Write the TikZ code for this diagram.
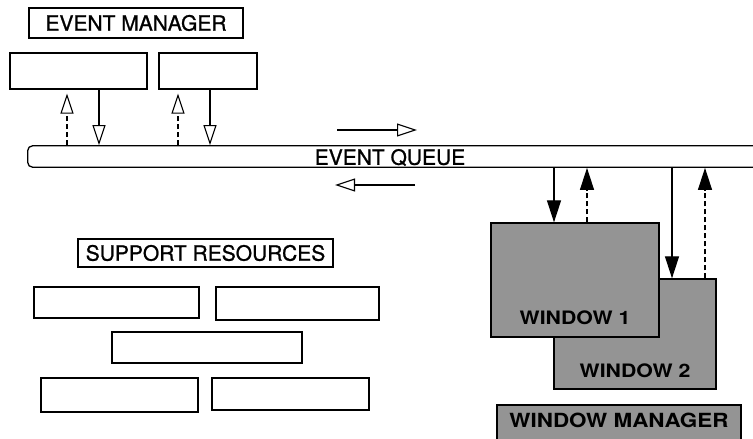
\documentclass[tikz,border=0pt]{standalone}
\usepackage{fontspec}
\setmainfont{TeX Gyre Heros}[FakeBold=1]
\newfontfamily\winfont[FakeStretch=1.15]{TeX Gyre Heros}
\usetikzlibrary{arrows.meta,positioning}

\begin{document}
\begin{tikzpicture}[
  x=1pt, y=-1pt,
  line width=1.1pt,
  box/.style={draw, line width=1.3pt, inner sep=0pt,
    font=\fontsize{21}{21}\selectfont},
  winbox/.style={draw, line width=1.3pt, fill=black!42},
  wintext/.style={inner sep=0pt, font=\winfont\bfseries\fontsize{18.5}{18.5}\selectfont},
  arr/.style={-{Triangle[length=22pt, width=14pt]}},
  oarr/.style={-{Triangle[open, length=20pt, width=13pt]}}
]
\clip (0,0) rectangle (753,439);

% event manager side
\node[box, minimum width=214pt, minimum height=30pt] (evman) at (136,23) {EVENT MANAGER};
\node[box, minimum width=137pt, minimum height=36pt] (evbox1) at (78.5,71) {};
\node[box, minimum width=98pt, minimum height=36pt] (evbox2) at (208,71) {};

% the queue
\node[box, rounded corners=5pt, minimum width=760pt, minimum height=21.5pt, anchor=west] (queue) at (27,156.5) {};
\node[inner sep=0pt, font=\fontsize{21}{21}\selectfont] (qname) at (390,157.5) {EVENT QUEUE};

% support resources
\node[box, minimum width=255pt, minimum height=28pt] (supres) at (205.5,253) {SUPPORT RESOURCES};
\node[box, minimum width=165pt, minimum height=31pt] (res1) at (116.5,302.5) {};
\node[box, minimum width=163pt, minimum height=33pt] (res2) at (297.5,303.5) {};
\node[box, minimum width=190pt, minimum height=31pt] (res3) at (207,347.5) {};
\node[box, minimum width=157pt, minimum height=34pt] (res4) at (119.5,395) {};
\node[box, minimum width=157pt, minimum height=32pt] (res5) at (290.5,394) {};

% windows
\node[winbox, minimum width=162pt, minimum height=110pt] (win2) at (635,334) {};
\node[wintext, above=11pt of win2.south] (win2name) {WINDOW 2};
\node[winbox, minimum width=168pt, minimum height=114pt] (win1) at (575,280) {};
\node[wintext, above=12pt of win1.south] (win1name) {WINDOW 1};
\node[winbox, minimum width=244pt, minimum height=45pt] (winman) at (619,427.5) {};
\node[wintext, font=\winfont\bfseries\fontsize{19.5}{19.5}\selectfont, below=8pt of winman.north] (winmanname) {WINDOW MANAGER};

% manager <-> queue
\coordinate (e1) at ([xshift=-11.5pt]evbox1.south);
\coordinate (e2) at ([xshift=20.5pt]evbox1.south);
\coordinate (e3) at ([xshift=-30pt]evbox2.south);
\coordinate (e4) at ([xshift=2pt]evbox2.south);
\draw[oarr, dash pattern=on 5pt off 3pt] (e1 |- queue.north) -- ([yshift=-4pt]e1);
\draw[oarr] (e2) -- (e2 |- queue.north);
\draw[oarr, dash pattern=on 5pt off 3pt] (e3 |- queue.north) -- ([yshift=-4pt]e3);
\draw[oarr] (e4) -- (e4 |- queue.north);

% queue in and out
\coordinate (inL) at (337,130);
\coordinate (inR) at (417,130);
\coordinate (outR) at (415,185);
\coordinate (outL) at (335,185);
\draw[oarr] (inL) -- (inR);
\draw[oarr] (outR) -- (outL);

% queue <-> windows
\coordinate (w1) at ([xshift=-21pt]win1.north);
\coordinate (w2) at ([xshift=12pt]win1.north);
\coordinate (w3) at ([xshift=37pt]win2.north);
\coordinate (w4) at ([xshift=70pt]win2.north);
\draw[arr] (w1 |- queue.south) -- (w1);
\draw[arr, dash pattern=on 5pt off 3pt] (w2) -- (w2 |- queue.south);
\draw[arr] (w3 |- queue.south) -- (w3);
\draw[arr, dash pattern=on 5pt off 3pt] (w4) -- (w4 |- queue.south);
\end{tikzpicture}
\end{document}
